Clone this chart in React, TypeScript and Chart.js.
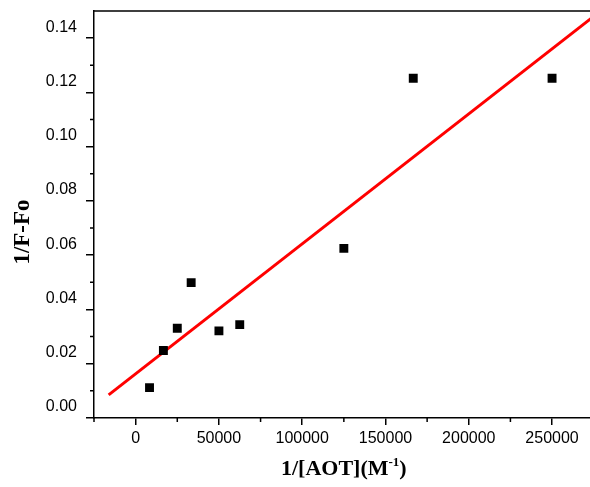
import React, { useEffect, useRef } from "react";
import { Chart, registerables } from "chart.js";

Chart.register(...registerables);

// ---- data ----
const xValues = [8333, 16667, 25000, 33333, 50000, 62500, 125000, 166667, 250000];
const yValues = [0.0112, 0.0249, 0.0331, 0.0499, 0.0321, 0.0344, 0.0625, 0.1252, 0.1252];
const fitX = [-16200, 275000];
const fitY = [0.0085, 0.148];

const xMajorTicks = [0, 50000, 100000, 150000, 200000, 250000];
const xMinorTicks = [-25000, 25000, 75000, 125000, 175000, 225000, 275000];
const yMajorTicks = [0, 0.02, 0.04, 0.06, 0.08, 0.1, 0.12, 0.14];
const yMinorTicks = [0.01, 0.03, 0.05, 0.07, 0.09, 0.11, 0.13];

const xTitleMain = "1/[AOT](M";
const xTitleSup = "-1";
const xTitleEnd = ")";
const yTitle = "1/F-Fo";

const SERIF = "'Liberation Serif', 'Times New Roman', serif";
const SANS = "'Liberation Sans', Arial, sans-serif";

const framePlugin = {
  id: "framePlugin",
  afterDraw(chart: any) {
    const { ctx, chartArea: a, scales } = chart;
    const xs = scales.x;
    const ys = scales.y;
    ctx.save();
    ctx.strokeStyle = "#000";
    ctx.lineWidth = 1.5;
    ctx.beginPath();
    ctx.moveTo(a.left, a.top);
    ctx.lineTo(a.right, a.top);
    for (const v of xMinorTicks) {
      const px = xs.getPixelForValue(v);
      ctx.moveTo(px, a.bottom);
      ctx.lineTo(px, a.bottom + 4);
    }
    for (const v of yMinorTicks) {
      const py = ys.getPixelForValue(v);
      ctx.moveTo(a.left, py);
      ctx.lineTo(a.left - 4, py);
    }
    ctx.stroke();

    // x axis title with superscript
    const mainFont = `bold 22px ${SERIF}`;
    const supFont = `bold 13px ${SERIF}`;
    ctx.fillStyle = "#000";
    ctx.textBaseline = "alphabetic";
    ctx.textAlign = "left";
    ctx.font = mainFont;
    const w1 = ctx.measureText(xTitleMain).width;
    const w3 = ctx.measureText(xTitleEnd).width;
    ctx.font = supFont;
    const w2 = ctx.measureText(xTitleSup).width;
    const total = w1 + w2 + w3;
    const cx = (a.left + a.right) / 2;
    let x0 = cx - total / 2;
    const base = 475;
    ctx.font = mainFont;
    ctx.fillText(xTitleMain, x0, base);
    x0 += w1;
    ctx.font = supFont;
    ctx.fillText(xTitleSup, x0, base - 9);
    x0 += w2;
    ctx.font = mainFont;
    ctx.fillText(xTitleEnd, x0, base);

    // y axis title, rotated
    ctx.save();
    ctx.translate(23, 232);
    ctx.rotate(-Math.PI / 2);
    ctx.font = `bold 23px ${SERIF}`;
    ctx.textAlign = "center";
    ctx.textBaseline = "middle";
    ctx.fillText(yTitle, 0, 0);
    ctx.restore();

    ctx.restore();
  },
};

export default function App() {
  const ref = useRef<HTMLCanvasElement | null>(null);

  useEffect(() => {
    if (!ref.current) return;
    const chart = new Chart(ref.current, {
      type: "scatter",
      data: {
        datasets: [
          {
            type: "line",
            data: fitX.map((x, i) => ({ x, y: fitY[i] })),
            borderColor: "#ff0000",
            borderWidth: 3,
            pointRadius: 0,
            fill: false,
            order: 2,
          } as any,
          {
            type: "scatter",
            data: xValues.map((x, i) => ({ x, y: yValues[i] })),
            pointStyle: "rect",
            radius: 6.3,
            backgroundColor: "#000",
            borderColor: "#000",
            borderWidth: 0,
            order: 1,
          } as any,
        ],
      },
      options: {
        responsive: false,
        animation: false,
        devicePixelRatio: 1,
        layout: { padding: { left: 0, top: 11, right: 6, bottom: 0 } },
        plugins: {
          legend: { display: false },
          tooltip: { enabled: false },
        },
        scales: {
          x: {
            type: "linear",
            position: "bottom",
            min: -25000,
            max: 275000,
            afterBuildTicks: (s: any) => {
              s.ticks = xMajorTicks.map((v) => ({ value: v }));
            },
            afterFit: (s: any) => {
              s.height = 69;
              s.paddingLeft = 0;
              s.paddingRight = 0;
            },
            border: { display: true, color: "#000", width: 1.5 },
            grid: {
              display: true,
              drawOnChartArea: false,
              drawTicks: true,
              tickLength: 7,
              color: "#000",
              lineWidth: 1.5,
            },
            ticks: {
              color: "#000",
              font: { family: SANS, size: 16 },
              padding: 4,
              maxRotation: 0,
              autoSkip: false,
              callback: (v: any) => String(v),
            },
          },
          y: {
            type: "linear",
            position: "left",
            min: 0,
            max: 0.15,
            afterBuildTicks: (s: any) => {
              s.ticks = yMajorTicks.map((v) => ({ value: v }));
            },
            afterFit: (s: any) => {
              s.width = 94;
              s.paddingTop = 0;
              s.paddingBottom = 0;
            },
            border: { display: true, color: "#000", width: 1.5 },
            grid: {
              display: true,
              drawOnChartArea: false,
              drawTicks: true,
              tickLength: 8,
              color: "#000",
              lineWidth: 1.5,
            },
            ticks: {
              color: "#000",
              font: { family: SANS, size: 16 },
              padding: 9,
              labelOffset: -11,
              autoSkip: false,
              callback: (v: any) => Number(v).toFixed(2),
            },
            title: { display: false },
          },
        },
      } as any,
      plugins: [framePlugin],
    });
    return () => chart.destroy();
  }, []);

  return (
    <div style={{ position: "fixed", left: 0, top: 0, width: 600, height: 487, background: "#fff" }}>
      <canvas ref={ref} width={600} height={487} style={{ display: "block" }} />
    </div>
  );
}
